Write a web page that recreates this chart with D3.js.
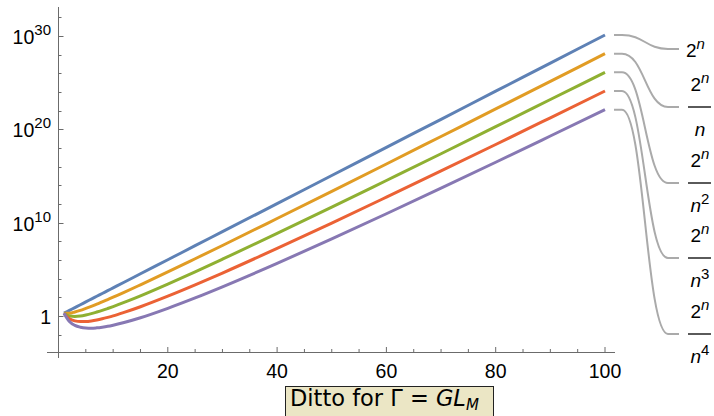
<!DOCTYPE html>
<html><head><meta charset="utf-8">
<script src="https://cdn.jsdelivr.net/npm/d3@7"></script>
<style>body{margin:0;background:#fff}svg{display:block}</style>
</head><body>
<svg id="c" width="714" height="416"></svg>
<script>
// n values sampled along the curves
const nValues = [1,2,3,4,5,6,7,8,9,10,12,15,20,25,30,40,50,60,70,80,90,100];
// log10 of the plotted values
const s2n   = [0.30,0.60,0.90,1.20,1.51,1.81,2.11,2.41,2.71,3.01,3.61,4.52,6.02,7.53,9.03,12.04,15.05,18.06,21.07,24.08,27.09,30.10];
const s2nN1 = [0.30,0.30,0.43,0.60,0.81,1.03,1.26,1.51,1.76,2.01,2.53,3.34,4.72,6.13,7.55,10.44,13.35,16.28,19.23,22.18,25.14,28.10];
const s2nN2 = [0.30,0.00,-0.05,0.00,0.11,0.25,0.42,0.60,0.80,1.01,1.45,2.16,3.42,4.73,6.08,8.84,11.65,14.51,17.38,20.28,23.19,26.10];
const s2nN3 = [0.30,-0.30,-0.53,-0.60,-0.59,-0.53,-0.43,-0.30,-0.15,0.01,0.38,0.99,2.12,3.33,4.60,7.24,9.95,12.73,15.54,18.37,21.23,24.10];
const s2nN4 = [0.30,-0.60,-1.01,-1.20,-1.29,-1.31,-1.27,-1.20,-1.11,-0.99,-0.70,-0.19,0.82,1.93,3.12,5.63,8.26,10.95,13.69,16.47,19.28,22.10];
const seriesList = [s2n, s2nN1, s2nN2, s2nN3, s2nN4];
const seriesDenomPow = [0, 1, 2, 3, 4];
const colors = ["#5E81B5","#E19C24","#8FB032","#EB6235","#8778B3"];
const xTicks = [20,40,60,80,100];
const xMinorTicks = [0,5,10,15,25,30,35,45,50,55,65,70,75,85,90,95];
const yTickExps = [0,10,20,30];
const yMinorExps = [-2,2,4,6,8,12,14,16,18,22,24,26,28,32];
const labelCenters = [49,107,183,258,334];
const title = "Ditto for Γ = ";

const svg = d3.select("#c");
const x = d3.scaleLinear().domain([0,100]).range([58.5,605]);
const y = d3.scaleLog().domain([Math.pow(10,-3.86), Math.pow(10,33.1)]).range([352,7]);
const axisColor = "#6b6b6b";
const lf = "'Liberation Sans', Arimo, Arial, Helvetica, sans-serif";

// axes lines
svg.append("line").attr("x1",47).attr("x2",615).attr("y1",352.5).attr("y2",352.5).attr("stroke",axisColor).attr("stroke-width",1);
svg.append("line").attr("x1",58.5).attr("x2",58.5).attr("y1",7).attr("y2",358).attr("stroke",axisColor).attr("stroke-width",1);

// x ticks
xTicks.forEach(t=>{
  svg.append("line").attr("x1",x(t)).attr("x2",x(t)).attr("y1",352).attr("y2",347).attr("stroke",axisColor);
  svg.append("text").attr("x",x(t)).attr("y",378).attr("text-anchor","middle")
    .style("font-family",lf).attr("font-size",19.5).text(t);
});
xMinorTicks.forEach(t=>{
  svg.append("line").attr("x1",x(t)).attr("x2",x(t)).attr("y1",352).attr("y2",349).attr("stroke",axisColor);
});
// y ticks
yTickExps.forEach(e=>{
  const yy = Math.round(y(Math.pow(10,e)))+0.5;
  svg.append("line").attr("x1",58.5).attr("x2",63.5).attr("y1",yy).attr("y2",yy).attr("stroke",axisColor);
  const t = svg.append("text").attr("x",51).attr("y",yy+7.5).attr("text-anchor","end")
    .style("font-family",lf).attr("font-size",19.5);
  if(e===0){ t.text("1"); }
  else {
    t.append("tspan").text("10");
    t.append("tspan").attr("font-size",15).attr("dy",-9.5).text(e);
  }
});
yMinorExps.forEach(e=>{
  const yy = Math.round(y(Math.pow(10,e)))+0.5;
  svg.append("line").attr("x1",58.5).attr("x2",61.5).attr("y1",yy).attr("y2",yy).attr("stroke",axisColor);
});

// lines
const line = d3.line().x(d=>x(d[0])).y(d=>y(Math.pow(10,d[1]))).curve(d3.curveMonotoneX);
seriesList.forEach((s,i)=>{
  const pts = nValues.map((n,j)=>[n,s[j]]);
  svg.append("path").attr("d",line(pts)).attr("fill","none").attr("stroke",colors[i]).attr("stroke-width",3);
});

// leaders
seriesList.forEach((s,i)=>{
  const y0 = y(Math.pow(10,s[s.length-1]));
  const y1 = labelCenters[i];
  const x0 = 614, xa = 622, xb = 668, x1 = 679;
  const d = `M${x0},${y0} H${xa} C${xa+22},${y0} ${xb-22},${y1} ${xb},${y1} H${x1}`;
  svg.append("path").attr("d",d).attr("fill","none").attr("stroke","#aaaaaa").attr("stroke-width",2);
});

// labels
function twoN(g, xx, yy, anchor){
  const t = g.append("text").attr("x",xx).attr("y",yy).attr("text-anchor",anchor)
    .style("font-family",lf).attr("font-size",19);
  t.append("tspan").text("2");
  t.append("tspan").attr("font-size",15).attr("dy",-8).attr("font-style","italic").text("n");
}
seriesDenomPow.forEach((k,i)=>{
  const g = svg.append("g");
  const c = labelCenters[i];
  if(k===0){
    twoN(g, 686, c+8, "start");
  } else {
    const cx = 700;
    twoN(g, cx, c-16, "middle");
    g.append("line").attr("x1",688).attr("x2",711).attr("y1",c).attr("y2",c).attr("stroke","#000").attr("stroke-width",1.3);
    const t = g.append("text").attr("x",cx).attr("y",c+29).attr("text-anchor","middle")
      .style("font-family",lf).attr("font-size",19);
    t.append("tspan").attr("font-style","italic").text("n");
    if(k>1) t.append("tspan").attr("font-size",15).attr("dy",-8).text(k);
  }
});

// title box
svg.append("rect").attr("x",285.5).attr("y",386.5).attr("width",208).attr("height",40)
  .attr("fill","#ebe6c5").attr("stroke","#222").attr("stroke-width",1);
const tt = svg.append("text").attr("x",290).attr("y",406).style("font-family","'DejaVu Sans', sans-serif").attr("font-size",22.5);
tt.append("tspan").text(title);
tt.append("tspan").attr("font-style","italic").text("GL");
tt.append("tspan").attr("font-style","italic").attr("font-size",15).attr("dy",4).text("M");
</script>
</body></html>
